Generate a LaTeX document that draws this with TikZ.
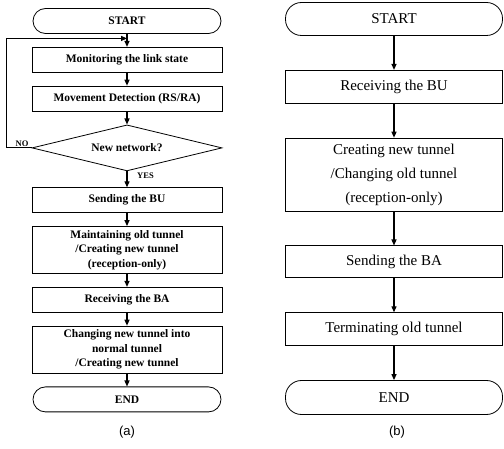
\documentclass[tikz,border=0pt]{standalone}
\usepackage{fontspec}
\setmainfont{Liberation Serif}
\newfontfamily\capfont{Liberation Sans}
\usetikzlibrary{shapes.geometric,arrows.meta,positioning,calc}

\begin{document}
\begin{tikzpicture}[
  node distance=13pt,
  oval/.style={draw, line width=0.8pt, rounded corners=12.5pt, minimum height=25pt,
               minimum width=188pt, font=\fontsize{11.5}{14.5}\selectfont\bfseries},
  box/.style={draw, line width=0.8pt, minimum height=25pt, minimum width=190pt,
              align=center, inner sep=2pt, font=\fontsize{11.5}{14.5}\selectfont\bfseries},
  decide/.style={draw, line width=0.8pt, diamond, aspect=4.1, minimum width=190pt,
                 minimum height=46pt, inner sep=0pt, font=\fontsize{11.5}{14.5}\selectfont\bfseries},
  tag/.style={font=\fontsize{8.5}{9}\selectfont\bfseries, inner sep=1pt},
  roval/.style={draw, line width=0.8pt, rounded corners=16pt, minimum height=33pt,
                minimum width=217pt, font=\fontsize{15}{24}\selectfont},
  rbox/.style={draw, line width=0.8pt, minimum height=33pt, minimum width=217pt,
               align=center, inner sep=2pt, font=\fontsize{15}{24}\selectfont},
  arr/.style={-{Triangle[length=6pt,width=5pt]}, line width=1.2pt}
]
\useasboundingbox (0pt,0pt) rectangle (504pt,-449pt);

% (a)
\node[oval] (sa) at (127pt,-21pt) {START};
\node[box, below=of sa] (mon) {Monitoring the link state};
\node[box, below=of mon] (mov) {Movement Detection (RS/RA)};
\node[decide, below=of mov] (net) {New network?};
\node[box, below=16pt of net] (sbu) {Sending the BU};
\node[box, minimum height=47pt, below=of sbu] (keep) {Maintaining old tunnel\\/Creating new tunnel\\(reception-only)};
\node[box, below=of keep] (rba) {Receiving the BA};
\node[box, minimum height=47pt, below=of rba] (chg) {Changing new tunnel into\\normal tunnel\\/Creating new tunnel};
\node[oval, below=of chg] (ea) {END};
\node[font=\capfont\fontsize{13}{15}\selectfont] (capa) at (127pt,-432pt) {(a)};
\coordinate (back) at ($(sa.south)!0.35!(mon.north)$);
\node[tag, above left=0pt and 2pt of net.west] (no) {NO};
\node[tag, below right=0pt and 9pt of net.south] (yes) {YES};

\draw[arr] (sa) -- (mon);
\draw[arr] (mon) -- (mov);
\draw[arr] (mov) -- (net);
\draw[arr] (net) -- (sbu);
\draw[arr] (sbu) -- (keep);
\draw[arr] (keep) -- (rba);
\draw[arr] (rba) -- (chg);
\draw[arr] (chg) -- (ea);
\draw[arr] (net.west) -- ++(-25pt,0) |- (back);

% (b)
\begin{scope}[node distance=34pt]
\node[roval] (sb) at (394pt,-19pt) {START};
\node[rbox, below=of sb] (rbu) {Receiving the BU};
\node[rbox, minimum height=73pt, below=of rbu] (mk) {Creating new tunnel\\/Changing old tunnel\\(reception-only)};
\node[rbox, minimum height=32pt, below=of mk] (sba) {Sending the BA};
\node[rbox, below=of sba] (old) {Terminating old tunnel};
\node[roval, minimum height=34pt, below=of old] (eb) {END};
\node[font=\capfont\fontsize{13}{15}\selectfont] (capb) at (397pt,-432pt) {(b)};
\draw[arr] (sb) -- (rbu);
\draw[arr] (rbu) -- (mk);
\draw[arr] (mk) -- (sba);
\draw[arr] (sba) -- (old);
\draw[arr] (old) -- (eb);
\end{scope}
\end{tikzpicture}
\end{document}
